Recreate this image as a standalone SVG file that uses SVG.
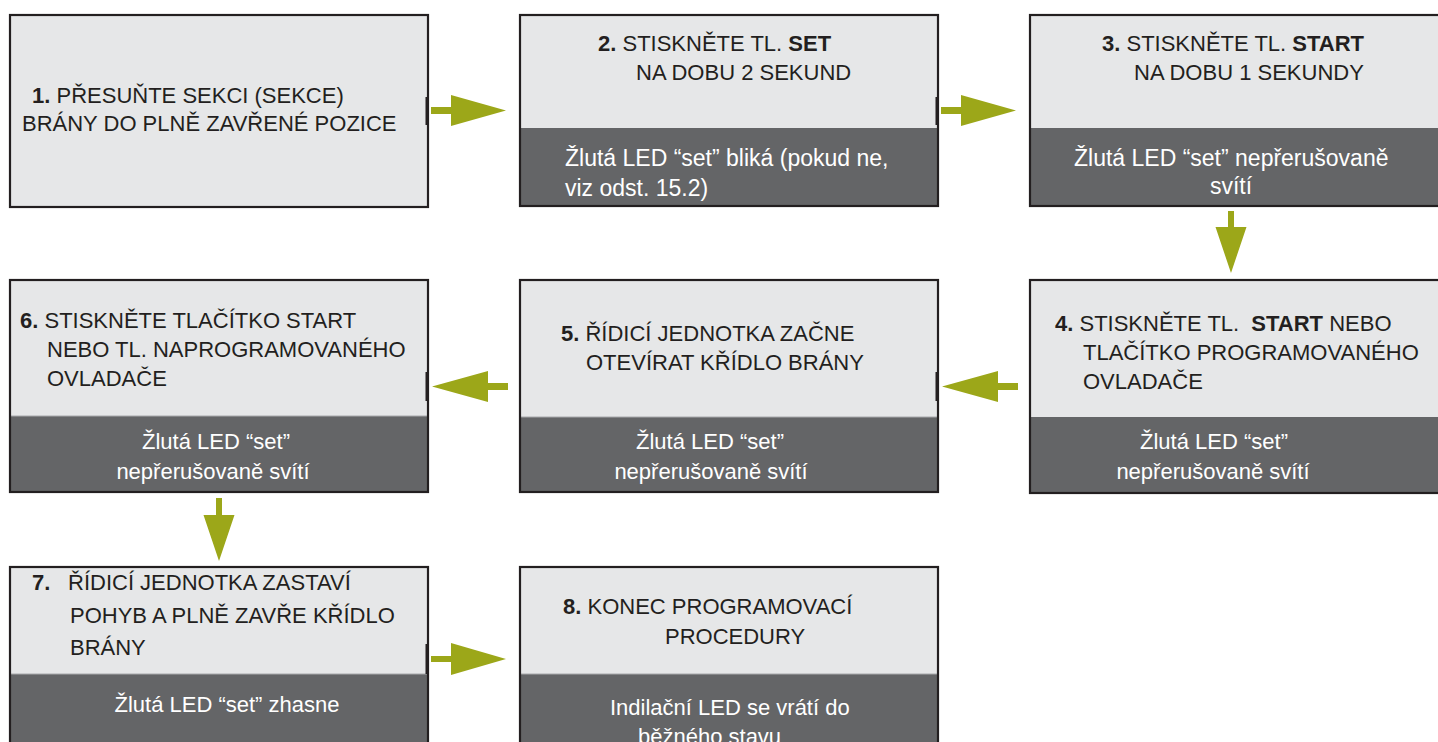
<svg xmlns="http://www.w3.org/2000/svg" width="1438" height="742" viewBox="0 0 1438 742">
<style>
.lt{fill:#e6e7e8}
.dk{fill:#646567}
.ol{fill:none;stroke:#231f20;stroke-width:2.2}
.dv{stroke:#a7a9ac;stroke-width:1.2}
.t{font-family:"Liberation Sans",Arial,sans-serif;font-size:22px;fill:#231f20}
.w{font-family:"Liberation Sans",Arial,sans-serif;font-size:22px;fill:#ffffff}
.w2{font-size:23px}
.m{text-anchor:middle}
.b{font-weight:bold}
.arr{fill:#9ca719}
.tk{fill:#231f20}
</style>
<rect width="1438" height="742" fill="#ffffff"/>
<g id="node1">
<rect class="lt" x="10" y="15" width="418" height="192"/>
<rect class="ol" x="10" y="15" width="418" height="192"/>
<text class="t" x="32" y="103"><tspan class="b">1.</tspan> PŘESUŇTE SEKCI (SEKCE)</text>
<text class="t" x="22" y="131">BRÁNY DO PLNĚ ZAVŘENÉ POZICE</text>
</g>
<g id="node2">
<rect class="lt" x="520" y="15" width="418" height="191"/>
<rect class="dk" x="520" y="128" width="418" height="78"/>
<rect class="ol" x="520" y="15" width="418" height="191"/>
<text class="t" x="598" y="51"><tspan class="b">2.</tspan> STISKNĚTE TL. <tspan class="b">SET</tspan></text>
<text class="t" x="636" y="80">NA DOBU 2 SEKUND</text>
<text class="w w2" x="565" y="166">Žlutá LED “set” bliká (pokud ne,</text>
<text class="w w2" x="565" y="196">viz odst. 15.2)</text>
</g>
<g id="node3">
<rect class="lt" x="1030" y="15" width="420" height="191"/>
<rect class="dk" x="1030" y="128" width="420" height="78"/>
<rect class="ol" x="1030" y="15" width="420" height="191"/>
<text class="t" x="1102" y="51"><tspan class="b">3.</tspan> STISKNĚTE TL. <tspan class="b">START</tspan></text>
<text class="t" x="1134" y="80">NA DOBU 1 SEKUNDY</text>
<text class="w w2" x="1074" y="166">Žlutá LED “set” nepřerušovaně</text>
<text class="w w2 m" x="1231" y="194">svítí</text>
</g>
<g id="node4">
<rect class="lt" x="1030" y="280" width="420" height="213"/>
<rect class="dk" x="1030" y="417" width="420" height="76"/>
<rect class="ol" x="1030" y="280" width="420" height="213"/>
<text class="t" x="1055" y="331"><tspan class="b">4.</tspan> STISKNĚTE TL. <tspan class="b" dx="6">START</tspan> NEBO</text>
<text class="t" x="1083" y="360">TLAČÍTKO PROGRAMOVANÉHO</text>
<text class="t" x="1083" y="389">OVLADAČE</text>
<text class="w m" x="1214" y="449">Žlutá LED “set”</text>
<text class="w m" x="1213" y="479">nepřerušovaně svítí</text>
</g>
<g id="node5">
<rect class="lt" x="520" y="280" width="418" height="212"/>
<rect class="dk" x="520" y="417" width="418" height="75"/>
<line class="dv" x1="521" y1="417" x2="937" y2="417"/>
<rect class="ol" x="520" y="280" width="418" height="212"/>
<text class="t" x="561" y="341"><tspan class="b">5.</tspan> ŘÍDICÍ JEDNOTKA ZAČNE</text>
<text class="t" x="586" y="370">OTEVÍRAT KŘÍDLO BRÁNY</text>
<text class="w m" x="710" y="449">Žlutá LED “set”</text>
<text class="w m" x="711" y="479">nepřerušovaně svítí</text>
</g>
<g id="node6">
<rect class="lt" x="10" y="280" width="418" height="212"/>
<rect class="dk" x="10" y="416" width="418" height="76"/>
<line class="dv" x1="11" y1="416" x2="427" y2="416"/>
<rect class="ol" x="10" y="280" width="418" height="212"/>
<text class="t" x="20" y="328"><tspan class="b">6.</tspan> STISKNĚTE TLAČÍTKO START</text>
<text class="t" x="47" y="357">NEBO TL. NAPROGRAMOVANÉHO</text>
<text class="t" x="47" y="386">OVLADAČE</text>
<text class="w m" x="216" y="449">Žlutá LED “set”</text>
<text class="w m" x="213" y="479">nepřerušovaně svítí</text>
</g>
<g id="node7">
<rect class="lt" x="10" y="567" width="418" height="190"/>
<rect class="dk" x="10" y="674" width="418" height="83"/>
<line class="dv" x1="11" y1="674" x2="427" y2="674"/>
<rect class="ol" x="10" y="567" width="418" height="190"/>
<text class="t" x="32" y="590"><tspan class="b">7.</tspan></text>
<text class="t" x="68" y="590">ŘÍDICÍ JEDNOTKA ZASTAVÍ</text>
<text class="t" x="70" y="623">POHYB A PLNĚ ZAVŘE KŘÍDLO</text>
<text class="t" x="70" y="655">BRÁNY</text>
<text class="w m" x="227" y="712">Žlutá LED “set” zhasne</text>
</g>
<g id="node8">
<rect class="lt" x="520" y="567" width="418" height="190"/>
<rect class="dk" x="520" y="674" width="418" height="83"/>
<line class="dv" x1="521" y1="674" x2="937" y2="674"/>
<rect class="ol" x="520" y="567" width="418" height="190"/>
<text class="t" x="563" y="614"><tspan class="b">8.</tspan> KONEC PROGRAMOVACÍ</text>
<text class="t" x="665" y="644">PROCEDURY</text>
<text class="w" x="610" y="715">Indilační LED se vrátí do</text>
<text class="w" x="638" y="744">běžného stavu</text>
</g>
<g id="connectors">
<rect class="tk" x="425.5" y="97" width="3.5" height="28"/>
<rect class="tk" x="935.5" y="97" width="3.5" height="28"/>
<rect class="tk" x="935.5" y="372" width="3.5" height="29"/>
<rect class="tk" x="425.5" y="372" width="3.5" height="29"/>
<rect class="tk" x="425.5" y="644" width="3.5" height="30"/>
<path class="arr" d="M431,107 H451 V95 L506,110.5 L451,126 V114 H431 Z"/>
<path class="arr" d="M941,107 H961 V95 L1016,110.5 L961,126 V114 H941 Z"/>
<path class="arr" d="M1228,211 H1234 V227 H1246.5 L1231,273 L1215.5,227 H1228 Z"/>
<path class="arr" d="M1018,383 H998 V371 L942,386.5 L998,402 V390 H1018 Z"/>
<path class="arr" d="M508,383 H488 V371 L432,386.5 L488,402 V390 H508 Z"/>
<path class="arr" d="M216,498 H222 V515 H234.5 L219,561 L203.5,515 H216 Z"/>
<path class="arr" d="M431,656 H451 V643 L506,659 L451,675 V662 H431 Z"/>
</g>
</svg>
